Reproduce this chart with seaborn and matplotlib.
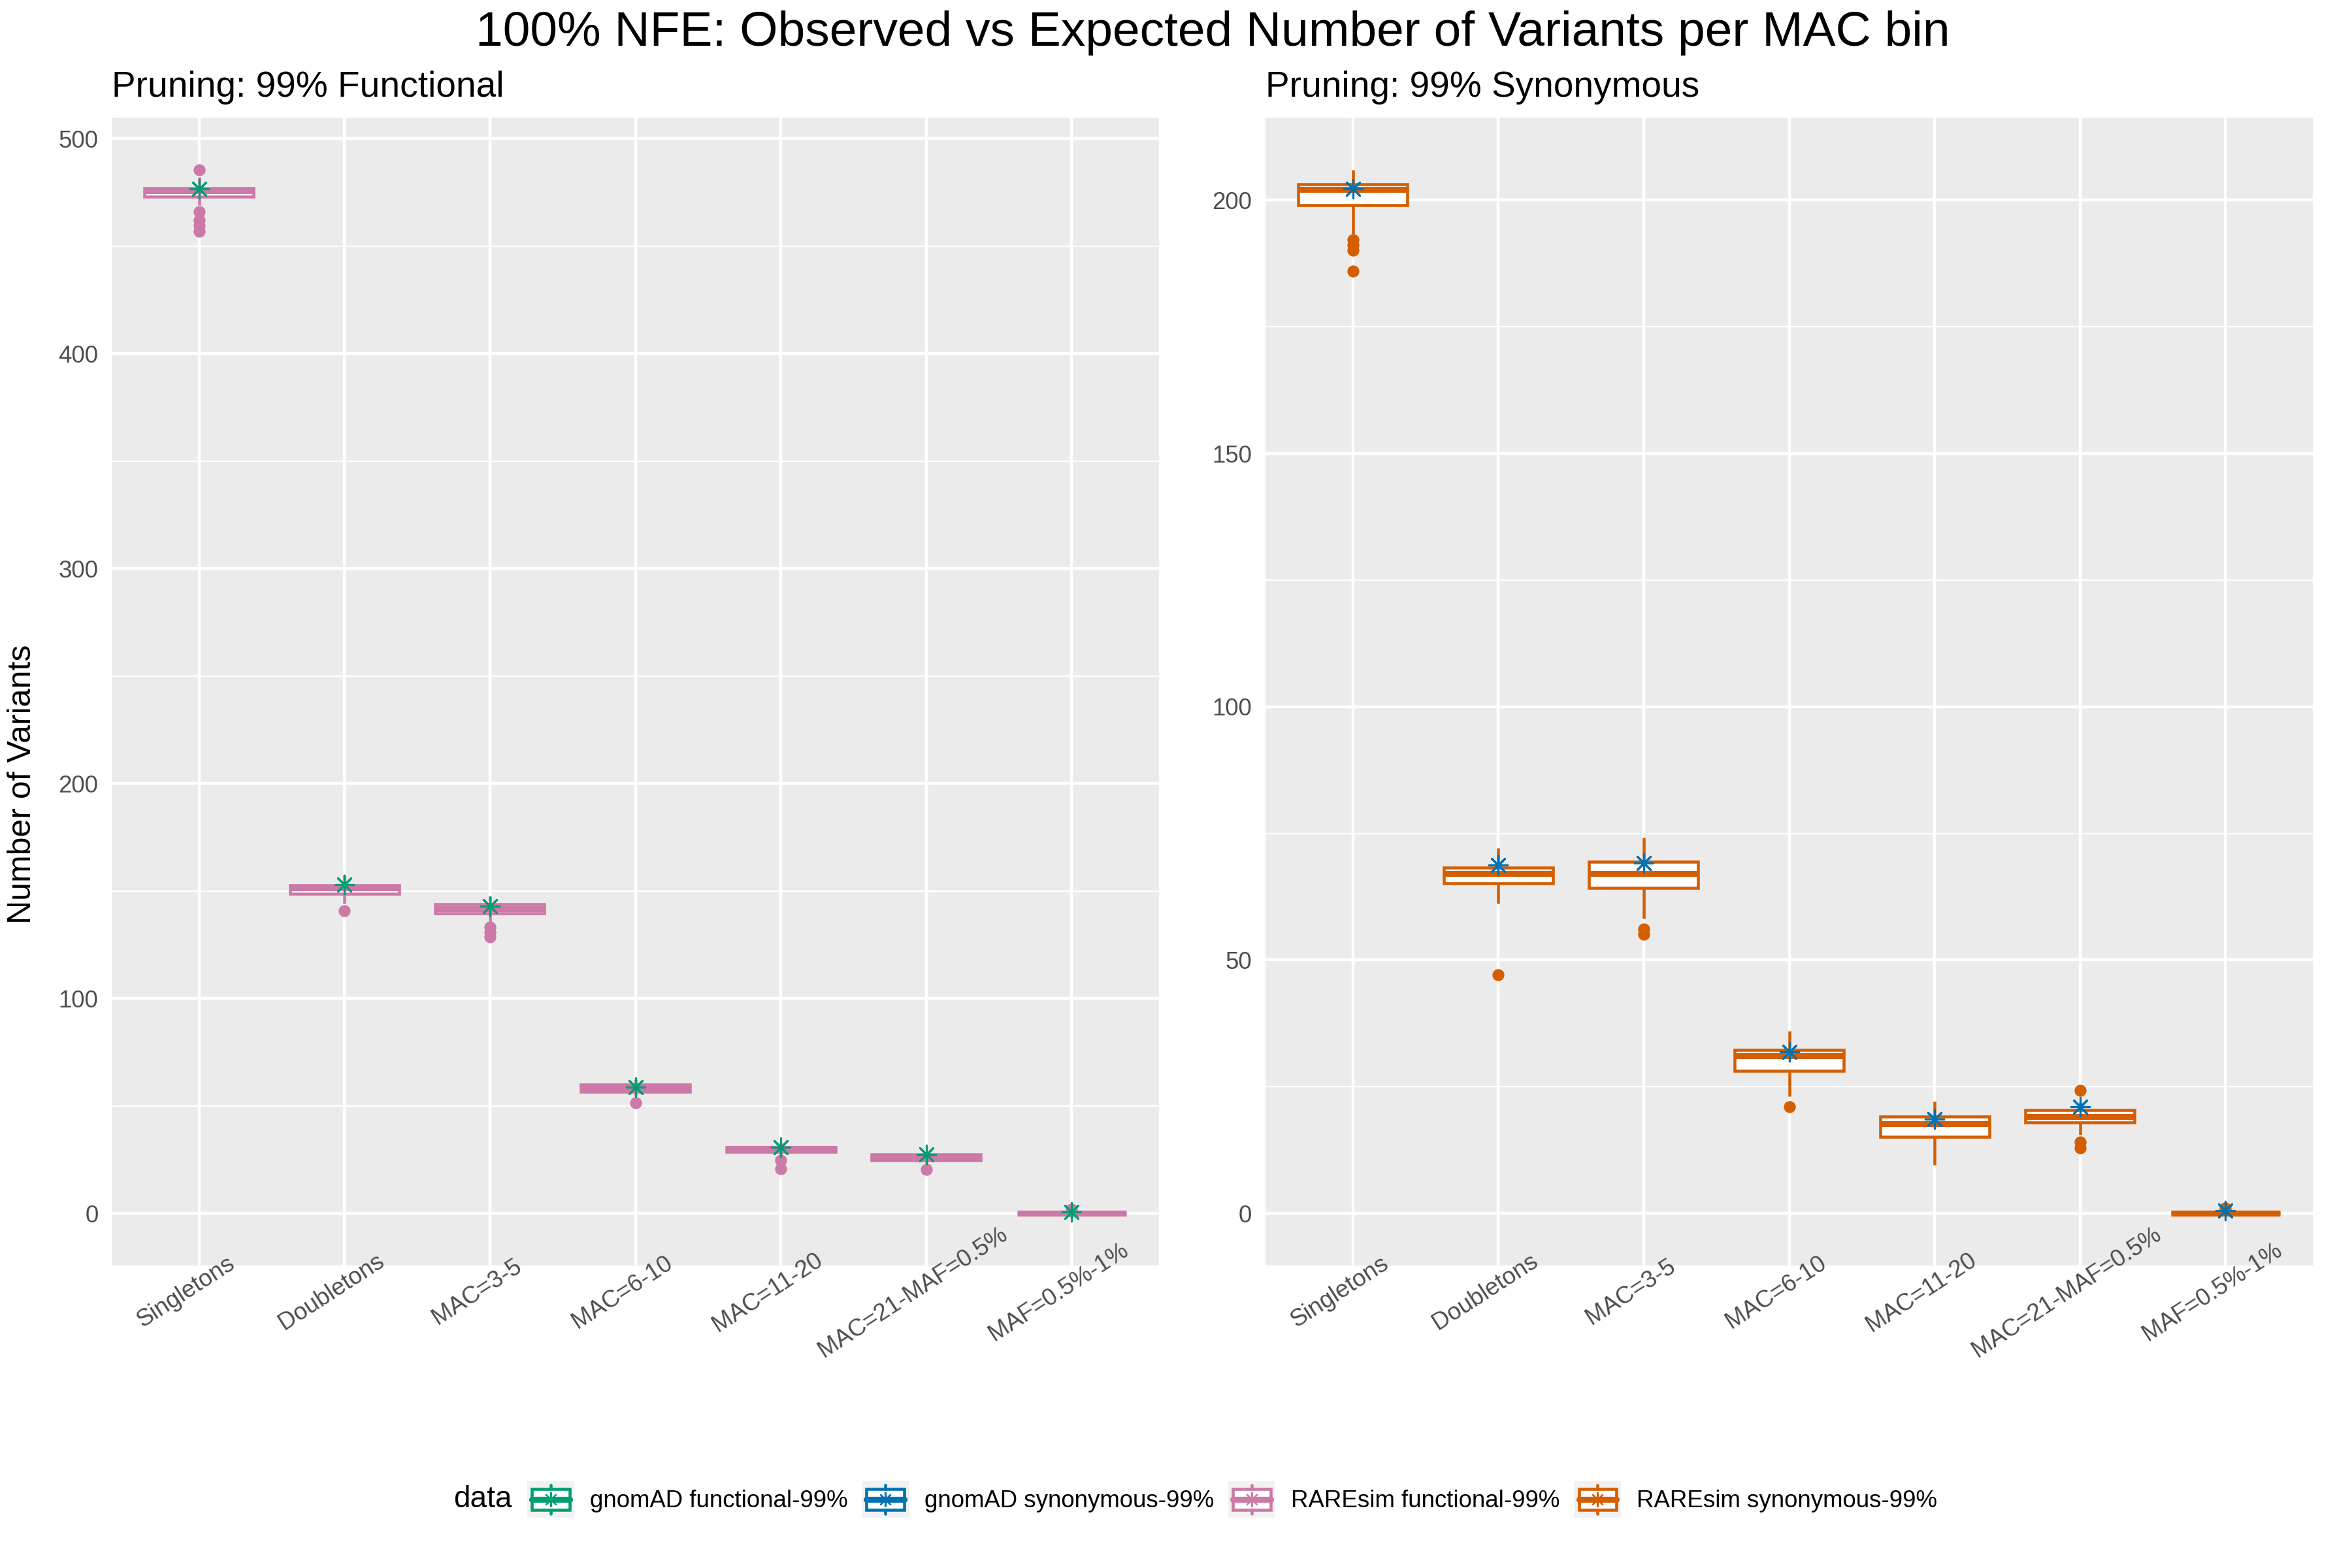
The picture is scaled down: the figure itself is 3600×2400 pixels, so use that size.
import numpy as np
import pandas as pd
import matplotlib
matplotlib.use("Agg")
import matplotlib.pyplot as plt
import matplotlib.transforms as mtransforms
from matplotlib.lines import Line2D
from matplotlib.patches import Rectangle
from matplotlib.legend_handler import HandlerBase
from matplotlib.ticker import MultipleLocator
import seaborn as sns

# MAC bins (x categories)
bins = ["Singletons", "Doubletons", "MAC=3-5", "MAC=6-10",
        "MAC=11-20", "MAC=21-MAF=0.5%", "MAF=0.5%-1%"]

# RAREsim replicates, functional, 99% pruning
fun_singletons = [457, 459.5, 462, 466, 469, 473, 474, 474.5, 475, 475.5, 475.7,
                  476, 476.3, 476.5, 476.8, 477, 478, 479, 480, 482, 485.5]
fun_doubletons = [140.8, 144, 148.7, 150, 151.5, 152, 152.7, 155, 157.5]
fun_mac3_5 = [128.7, 130.7, 133.2, 135.5, 139.7, 140.5, 141, 141.5, 141.8,
              142.5, 143, 143.5, 143.8, 145, 146, 147, 147.6]
fun_mac6_10 = [51.5, 54.7, 56.6, 57.5, 58, 59, 59.9, 61, 62.3]
fun_mac11_20 = [20.8, 24.8, 26.5, 28.7, 29, 29.5, 30, 30.3, 30.5, 30.8, 31.5, 32, 33]
fun_mac21_maf05 = [20.3, 23.3, 24.6, 25.5, 26.6, 27, 27.3, 28, 28.5]
fun_maf05_1 = [0, 0, 0, 0, 0, 0, 0, 1, 2]

# RAREsim replicates, synonymous, 99% pruning
syn_singletons = [186, 190.1, 191.2, 192.2, 193.3, 199, 199.5, 200, 201, 201.5, 202.1,
                  202.3, 202.5, 202.8, 203, 203.2, 203.5, 204, 204.5, 205, 206]
syn_doubletons = [47.1, 61.2, 65.1, 66, 67.1, 67.6, 68.2, 70, 72.1]
syn_mac3_5 = [55.1, 56.1, 58.2, 64.2, 65, 66, 67.1, 68, 68.8, 69.4, 71, 72.5, 74.2]
syn_mac6_10 = [21.1, 23.1, 28.1, 30, 31.1, 31.7, 32.2, 34, 36]
syn_mac11_20 = [9.5, 12, 15.1, 16.5, 17.7, 18.3, 19.05, 20.5, 22.05]
syn_mac21_maf05 = [12.9, 14.1, 15.5, 17.95, 18.3, 18.7, 19.1, 19.5, 20, 20.4, 21, 22, 24.3]
syn_maf05_1 = [0, 0, 0, 0, 0, 0, 0, 0, 1]

# gnomAD expected counts (asterisks)
gnomad_functional = [476.7, 153.0, 142.9, 58.8, 30.7, 27.4, 0.5]
gnomad_synonymous = [202.3, 68.8, 69.1, 31.9, 18.6, 21.0, 0.5]

legend_labels = ["gnomAD functional-99%", "gnomAD synonymous-99%",
                 "RAREsim functional-99%", "RAREsim synonymous-99%"]

GREEN, BLUE, PINK, ORANGE = "#009E73", "#0072B2", "#CC79A7", "#D55E00"
STAR = (8, 2, 0)


class BoxKey(HandlerBase):
    # ggplot-like legend key: grey square with a small boxplot and an asterisk
    def create_artists(self, legend, orig_handle, xdescent, ydescent,
                       width, height, fontsize, trans):
        col = orig_handle.get_color()
        x0, y0 = -xdescent, -ydescent
        cx = x0 + width / 2
        bg = Rectangle((x0, y0), width, height, facecolor="#F2F2F2",
                       edgecolor="none", transform=trans)
        box = Rectangle((x0 + 0.1 * width, y0 + 0.22 * height), 0.8 * width, 0.56 * height,
                        facecolor="white", edgecolor=col, linewidth=1.1, transform=trans)
        wl = Line2D([cx, cx], [y0 + 0.1 * height, y0 + 0.22 * height],
                    color=col, linewidth=1.1, transform=trans)
        wh = Line2D([cx, cx], [y0 + 0.78 * height, y0 + 0.9 * height],
                    color=col, linewidth=1.1, transform=trans)
        med = Line2D([x0 + 0.1 * width, x0 + 0.9 * width], [y0 + 0.5 * height] * 2,
                     color=col, linewidth=2.2, transform=trans)
        star = Line2D([cx], [y0 + 0.5 * height], marker=STAR, markersize=5.5,
                      markeredgewidth=0.55, color=col, linestyle="none", transform=trans)
        return [bg, box, wl, wh, med, star]


def draw_panel(ax, sims, expected, box_col, star_col, major, minor, title):
    df = pd.DataFrame({
        "bin": np.repeat(bins, [len(v) for v in sims]),
        "value": np.concatenate(sims),
    })
    sns.boxplot(data=df, x="bin", y="value", order=bins, ax=ax,
                color="white", linecolor=box_col, saturation=1,
                linewidth=1.1, width=0.75, showcaps=False,
                medianprops=dict(linewidth=2.2, color=box_col),
                flierprops=dict(marker="o", markersize=4.4, markerfacecolor=box_col,
                                markeredgecolor=box_col, markeredgewidth=0))
    sns.stripplot(x=bins, y=expected, order=bins, ax=ax, jitter=False,
                  marker=STAR, size=6.8, color=star_col, edgecolor=star_col,
                  linewidth=0.75, zorder=5)

    lo = min(df["value"].min(), min(expected))
    hi = max(df["value"].max(), max(expected))
    pad = 0.05 * (hi - lo)
    ax.set_ylim(lo - pad, hi + pad)
    ax.set_xlim(-0.6, len(bins) - 0.4)

    ax.yaxis.set_major_locator(MultipleLocator(major))
    ax.yaxis.set_minor_locator(MultipleLocator(minor))
    ax.grid(which="major", color="white", linewidth=1.07)
    ax.grid(which="minor", axis="y", color="white", linewidth=0.55)
    ax.set_axisbelow(True)
    for s in ax.spines.values():
        s.set_visible(False)

    ax.tick_params(axis="both", which="major", length=2.75, width=1.07,
                   color="#333333", labelsize=8.8, labelcolor="#4D4D4D", pad=2.2)
    ax.tick_params(axis="x", which="major", pad=7.1)
    ax.tick_params(axis="both", which="minor", length=0)
    ax.set_xlabel("")
    ax.set_ylabel("")

    offset = mtransforms.ScaledTranslation(-20 / 300, 0, ax.figure.dpi_scale_trans)
    for lab in ax.get_xticklabels():
        lab.set_rotation(33)
        lab.set_ha("center")
        lab.set_va("center")
        lab.set_rotation_mode("anchor")
        lab.set_transform(lab.get_transform() + offset)

    ax.set_title(title, loc="left", fontsize=13.2, pad=7.7, color="black")


def main():
    sns.set_theme(style="darkgrid", rc={"axes.facecolor": "#EBEBEB",
                                        "grid.color": "white",
                                        "figure.facecolor": "white",
                                        "text.color": "black"})
    plt.rcParams["font.family"] = ["Liberation Sans", "DejaVu Sans"]

    fig = plt.figure(figsize=(12, 8), dpi=300)
    ax1 = fig.add_axes([171 / 3600, 1 - 1937 / 2400, 1603 / 3600, 1757 / 2400])
    ax2 = fig.add_axes([1937 / 3600, 1 - 1937 / 2400, 1603 / 3600, 1757 / 2400])

    functional = [fun_singletons, fun_doubletons, fun_mac3_5, fun_mac6_10,
                  fun_mac11_20, fun_mac21_maf05, fun_maf05_1]
    synonymous = [syn_singletons, syn_doubletons, syn_mac3_5, syn_mac6_10,
                  syn_mac11_20, syn_mac21_maf05, syn_maf05_1]

    draw_panel(ax1, functional, gnomad_functional, PINK, GREEN, 100, 50,
               "Pruning: 99% Functional")
    draw_panel(ax2, synonymous, gnomad_synonymous, ORANGE, BLUE, 50, 25,
               "Pruning: 99% Synonymous")

    fig.text(1856 / 3600, 1 - 70 / 2400,
             "100% NFE: Observed vs Expected Number of Variants per MAC bin",
             ha="center", va="baseline", fontsize=18, color="black")
    fig.text(34 / 3600, 1 - 1200 / 2400, "Number of Variants", rotation=90,
             ha="center", va="center", fontsize=12, color="black")

    handles = [Line2D([], [], color=c) for c in (GREEN, BLUE, PINK, ORANGE)]
    leg = fig.legend(handles, legend_labels, loc="center",
                     bbox_to_anchor=(1886 / 3600, 1 - 2295 / 2400), ncol=4,
                     frameon=False, fontsize=8.8, borderpad=0,
                     handlelength=17.28 / 8.8, handleheight=17.28 / 8.8,
                     handletextpad=0.65, columnspacing=0.6,
                     handler_map={Line2D: BoxKey()})
    for t in leg.get_texts():
        t.set_color("black")
    fig.canvas.draw()
    bb = leg.get_window_extent().transformed(fig.transFigure.inverted())
    fig.text(bb.x0 - 23 / 3600, 1 - 2295 / 2400, "data", ha="right", va="center",
             fontsize=11, color="black")

    fig.savefig("out.png", dpi=300)


if __name__ == "__main__":
    main()
